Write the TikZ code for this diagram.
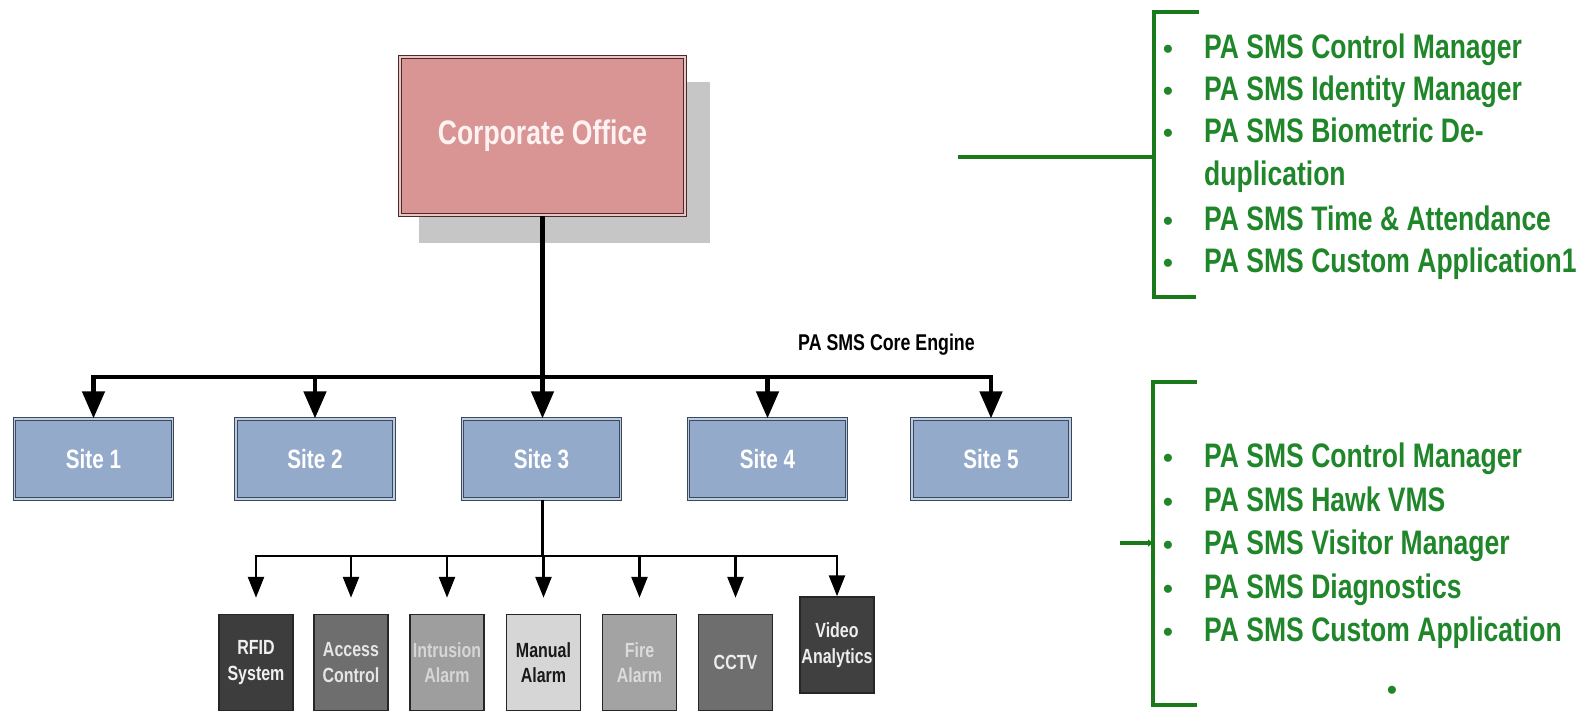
\documentclass[tikz,border=0pt]{standalone}
\usepackage{fontspec}
\setmainfont{Liberation Sans}
\newfontfamily\nar[FakeStretch=0.78]{Liberation Sans}
\usetikzlibrary{arrows.meta}
\definecolor{corpfill}{HTML}{D99594}
\definecolor{corpline}{HTML}{4A2A2A}
\definecolor{corptext}{HTML}{FFF2F2}
\definecolor{shadowgray}{HTML}{C6C6C6}
\definecolor{sitefill}{HTML}{94AACA}
\definecolor{siteline}{HTML}{3A4A5E}
\definecolor{gline}{HTML}{1A7A1A}
\definecolor{gtext}{HTML}{1F862A}
\begin{document}
\begin{tikzpicture}[x=1pt,y=-1pt,
  corpbox/.style={draw=corpline, line width=1.3pt, double=corpfill!55!white, double distance=1.6pt,
    fill=corpfill, text=corptext, inner sep=0pt, minimum width=285pt, minimum height=158pt,
    font=\nar\bfseries\fontsize{34}{40}\selectfont},
  sitebox/.style={draw=siteline, line width=1.2pt, double=sitefill!60!white, double distance=1.5pt,
    fill=sitefill, text=white, inner sep=0pt, minimum width=158pt, minimum height=80pt,
    font=\nar\bfseries\fontsize{26.5}{31}\selectfont},
  devbox/.style={draw=black!85, line width=1.5pt, inner sep=0pt, minimum width=74pt, minimum height=96pt,
    align=center, font=\nar\bfseries\fontsize{20.5}{25.5}\selectfont},
  bigline/.style={line width=4.5pt, black},
  bigarrow/.style={bigline, -{Triangle[width=22pt,length=27pt]}},
  smallline/.style={line width=2.6pt, black},
  smallarrow/.style={smallline, -{Triangle[width=16pt,length=21pt]}},
  glist/.style={anchor=base west, inner sep=0pt, text=gtext, font=\nar\bfseries\fontsize{34}{40}\selectfont},
  gbullet/.style={anchor=base, inner sep=0pt, text=gtext, font=\bfseries\fontsize{28}{34}\selectfont},
  gbrack/.style={line width=4pt, gline},
]
\useasboundingbox (0,0) rectangle (1587,710);
\clip (0,0) rectangle (1587,710);
\fill[white] (0,0) rectangle (1587,710);

% corporate office
\fill[shadowgray] (419,82) rectangle (710,243);
\node[corpbox] (corp) at (542.5,136) {Corporate Office};

% sites
\node[sitebox] (s1) at (93.5,459) {Site 1};
\node[sitebox] (s2) at (315,459) {Site 2};
\node[sitebox] (s3) at (541.5,459) {Site 3};
\node[sitebox] (s4) at (767.5,459) {Site 4};
\node[sitebox] (s5) at (991,459) {Site 5};

\coordinate (bar) at (0,377);
\draw[bigline, line cap=rect] (s1.north |- bar) -- (s5.north |- bar);
\draw[bigarrow] (s1.north |- bar) -- (s1.north);
\draw[bigarrow] (s2.north |- bar) -- (s2.north);
\draw[bigarrow] (s4.north |- bar) -- (s4.north);
\draw[bigarrow] (s5.north |- bar) -- (s5.north);
\draw[bigarrow] (corp.south) -- (corp.south |- s3.north);

\node[anchor=west, inner sep=0pt, font=\nar\bfseries\fontsize{22.8}{27}\selectfont] (core) at (798,345) {PA SMS Core Engine};

% devices
\node[devbox, fill=black!76, text=white!94!black] (b1) at (256,662.5) {RFID\\System};
\node[devbox, fill=black!57, text=white!90!black] (b2) at (351,662.5) {Access\\Control};
\node[devbox, fill=black!38, text=white!84!black] (b3) at (447,662.5) {Intrusion\\Alarm};
\node[devbox, fill=black!16, text=black!90] (b4) at (543.5,662.5) {Manual\\Alarm};
\node[devbox, fill=black!36, text=white!86!black] (b5) at (639.5,662.5) {Fire\\Alarm};
\node[devbox, fill=black!57, text=white!93!black] (b6) at (735.5,662.5) {CCTV};
\node[devbox, fill=black!75, text=white!93!black] (b7) at (837,645) {Video\\Analytics};

\coordinate (bar2) at (0,556);
\draw[smallline] (corp.south |- s3.south) -- (corp.south |- bar2);
\draw[smallline, line cap=rect] (b1.north |- bar2) -- (b7.north |- bar2);
\foreach \b in {b1,b2,b3,b4,b5,b6}{
  \draw[smallarrow, shorten >=16pt] (\b.north |- bar2) -- (\b.north);
}
\draw[smallarrow] (b7.north |- bar2) -- (b7.north);

% top list
\coordinate (tl) at (958,157);
\coordinate (tt) at (1154,12);
\coordinate (tbm) at (1154,297);
\draw[gbrack] (1199,12) -- (tt) -- (tbm) -- (1196,297);
\draw[gbrack] (tl) -- (tl -| tt);
\node[gbullet] (tb1) at (1168,58.5) {•};
\node[glist] (tx1) at (1204,58.5) {PA SMS Control Manager};
\node[gbullet] (tb2) at (1168,100.5) {•};
\node[glist] (tx2) at (1204,100.5) {PA SMS Identity Manager};
\node[gbullet] (tb3) at (1168,142.5) {•};
\node[glist] (tx3) at (1204,142.5) {PA SMS Biometric De-};
\node[glist] (tx4) at (1204,185.5) {duplication};
\node[gbullet] (tb5) at (1168,230.5) {•};
\node[glist] (tx5) at (1204,230.5) {PA SMS Time \& Attendance};
\node[gbullet] (tb6) at (1168,272.5) {•};
\node[glist] (tx6) at (1204,272.5) {PA SMS Custom Application1};

% bottom list
\coordinate (bl) at (1120,543);
\coordinate (bt) at (1153,382);
\coordinate (bbm) at (1153,705);
\draw[gbrack] (1197,382) -- (bt) -- (bbm) -- (1197,705);
\draw[gline, line width=3.5pt, -{Triangle[width=7pt,length=5pt]}] (bl) -- (bl -| bt);
\node[gbullet] (bb1) at (1168,467.5) {•};
\node[glist] (bx1) at (1204,467.5) {PA SMS Control Manager};
\node[gbullet] (bb2) at (1168,511.5) {•};
\node[glist] (bx2) at (1204,511.5) {PA SMS Hawk VMS};
\node[gbullet] (bb3) at (1168,554.5) {•};
\node[glist] (bx3) at (1204,554.5) {PA SMS Visitor Manager};
\node[gbullet] (bb4) at (1168,598.5) {•};
\node[glist] (bx4) at (1204,598.5) {PA SMS Diagnostics};
\node[gbullet] (bb5) at (1168,641.5) {•};
\node[glist] (bx5) at (1204,641.5) {PA SMS Custom Application};
\node[gbullet] (bb6) at (1392,699.5) {•};
\end{tikzpicture}
\end{document}
